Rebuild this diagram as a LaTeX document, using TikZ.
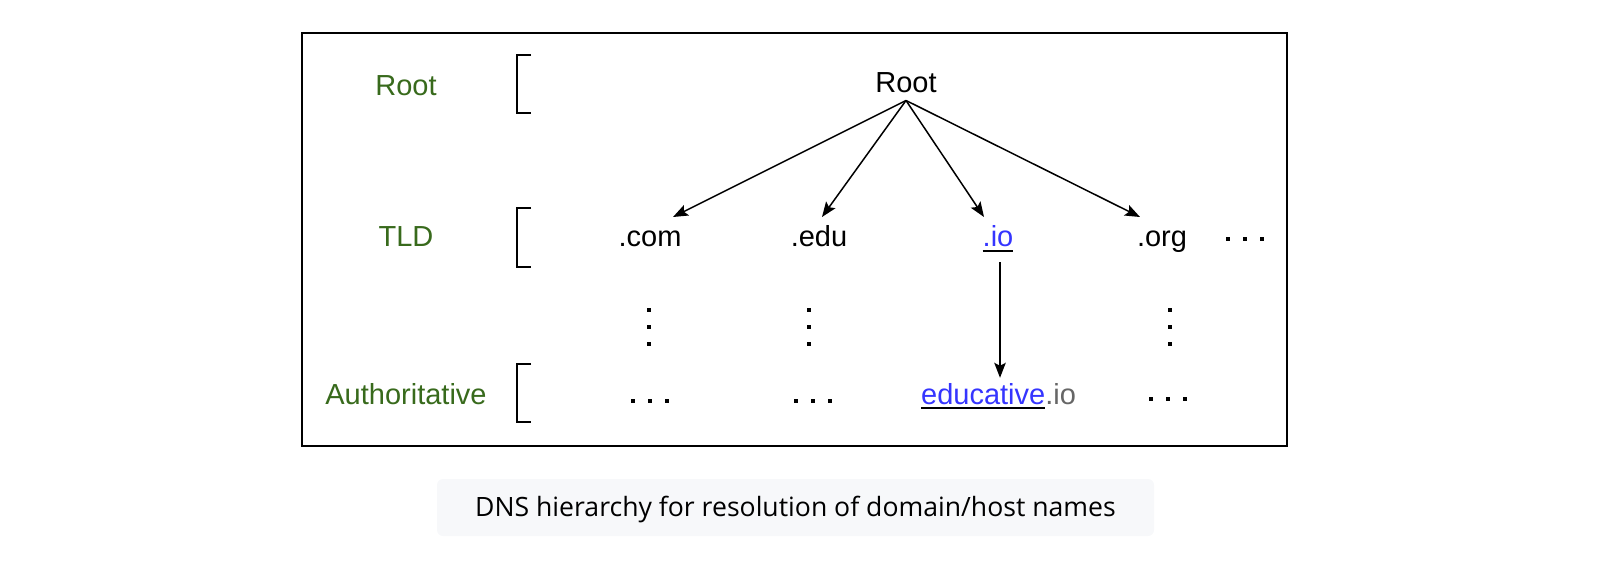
\documentclass[tikz,border=0pt]{standalone}
\usepackage{fontspec}
\setmainfont{Liberation Sans}
\newfontfamily\capfont{Open Sans}
\usetikzlibrary{arrows.meta}
\definecolor{lvlgreen}{HTML}{386A1C}
\definecolor{linkblue}{HTML}{3535FF}
\definecolor{iogray}{HTML}{666666}
\definecolor{capfill}{HTML}{F7F8FA}
\newcommand\ulbox[1]{\setbox0\hbox{#1}\rlap{\rule[-5.3pt]{\wd0}{2.2pt}}\box0}
\begin{document}
\begin{tikzpicture}[x=1pt,y=-1pt,
  lbl/.style={anchor=base, inner sep=0pt, font=\fontsize{29}{34}\selectfont},
  lvl/.style={lbl, text=lvlgreen},
  arr/.style={line width=1.5pt, -{Stealth[length=15pt,width=11.5pt,inset=3pt]}},
  brk/.style={line width=1.6pt},
  dotsq/.style={fill=black, minimum size=4.2pt, inner sep=0pt, draw=none, rectangle}]
\useasboundingbox (0,0) rectangle (1602,562);
% frame
\draw[line width=2pt] (302,33) rectangle (1287,446);
% level labels
\node[lvl] (lroot) at (406,95) {Root};
\node[lvl] (ltld) at (406,246.7) {TLD};
\node[lvl] (lauth) at (406,404) {Authoritative};
% brackets
\draw[brk] (531,55) -- (517,55) -- (517,113) -- (531,113);
\draw[brk] (531,208) -- (517,208) -- (517,267) -- (531,267);
\draw[brk] (531,364) -- (517,364) -- (517,422) -- (531,422);
% tree nodes
\node[lbl, inner ysep=7.3pt] (root) at (906,92.7) {Root};
\node[lbl] (com) at (650,246.7) {.com};
\node[lbl] (edu) at (819,246.7) {.edu};
\node[lbl, inner ysep=10pt] (io) at (998,246.7) {\ulbox{\textcolor{linkblue}{.io}}};
\node[lbl] (org) at (1162,246.7) {.org};
\node[lbl, inner ysep=5pt] (edio) at (998.5,404) {\ulbox{\textcolor{linkblue}{educative}}\textcolor{iogray}{.io}};
% arrow end points
\coordinate (comin) at (673,217);
\coordinate (eduin) at (822,217);
\coordinate (ioin) at (984,217);
\coordinate (orgin) at (1140,217);
\draw[arr] (root.south) -- (comin);
\draw[arr] (root.south) -- (eduin);
\draw[arr] (root.south) -- (ioin);
\draw[arr] (root.south) -- (orgin);
\draw[arr] (io.south -| 1000,0) -- (edio.north -| 1000,0);
% dots
\foreach \x/\n in {1228/a,1245/b,1262/c} \node[dotsq] (tdot\n) at (\x,239) {};
\foreach \x/\c in {649/1,809/2,1170/3}{
  \foreach \y/\n in {310/a,327/b,344/c} \node[dotsq] (vdot\c\n) at (\x,\y) {};
}
\foreach \x/\n in {633/a,650/b,667/c} \node[dotsq] (hdot1\n) at (\x,401) {};
\foreach \x/\n in {796/a,813/b,830/c} \node[dotsq] (hdot2\n) at (\x,401) {};
\foreach \x/\n in {1151/a,1168/b,1185/c} \node[dotsq] (hdot3\n) at (\x,399) {};
% caption
\node[fill=capfill, rounded corners=6pt, minimum width=717pt, minimum height=57pt, inner sep=0pt] (capbox) at (795.5,507.5) {};
\node[anchor=base, inner sep=0pt, font=\capfont\fontsize{26.6}{31}\selectfont] (cap) at (795.5,516.5) {DNS hierarchy for resolution of domain/host names};
\end{tikzpicture}
\end{document}
